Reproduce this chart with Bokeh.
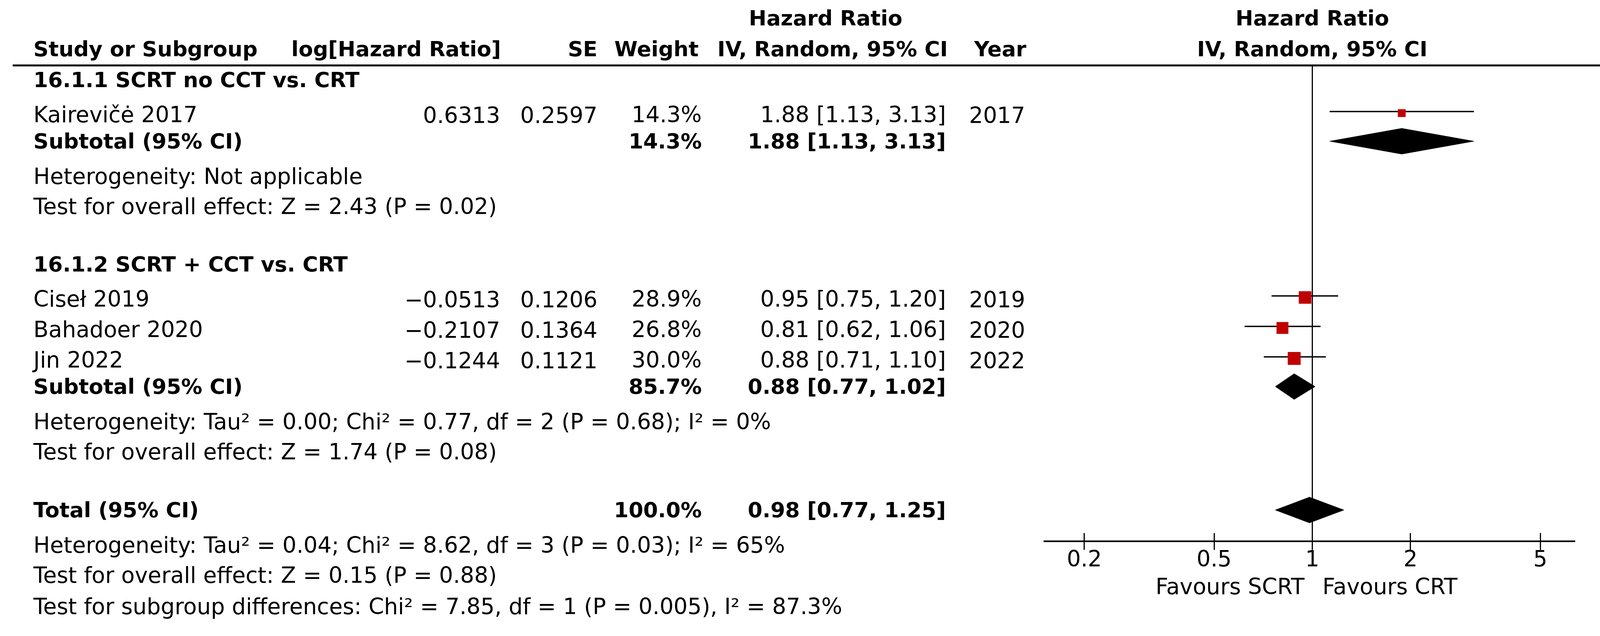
from bokeh.plotting import figure
from bokeh.models import (Range1d, FixedTicker, CustomJSTickFormatter, ColumnDataSource,
                          LogScale, LogAxis)
from bokeh.embed import file_html
from bokeh.resources import INLINE
from bokeh.core.properties import value

# ------------------------------------------------------------------ data
subgroup_titles = ["16.1.1 SCRT no CCT vs. CRT", "16.1.2 SCRT + CCT vs. CRT"]

study_names = ["Kairevičė 2017", "Ciseł 2019", "Bahadoer 2020", "Jin 2022"]
log_hr = [0.6313, -0.0513, -0.2107, -0.1244]
se = [0.2597, 0.1206, 0.1364, 0.1121]
weights = [14.3, 28.9, 26.8, 30.0]
hr = [1.88, 0.95, 0.81, 0.88]
hr_lo = [1.13, 0.75, 0.62, 0.71]
hr_hi = [3.13, 1.20, 1.06, 1.10]
years = ["2017", "2019", "2020", "2022"]

pooled_labels = ["Subtotal (95% CI)", "Subtotal (95% CI)", "Total (95% CI)"]
pooled_weight = [14.3, 85.7, 100.0]
pooled_hr = [1.88, 0.88, 0.98]
pooled_lo = [1.13, 0.77, 0.77]
pooled_hi = [3.13, 1.02, 1.25]

heterogeneity = [
    "Heterogeneity: Not applicable",
    "Heterogeneity: Tau² = 0.00; Chi² = 0.77, df = 2 (P = 0.68); I² = 0%",
    "Heterogeneity: Tau² = 0.04; Chi² = 8.62, df = 3 (P = 0.03); I² = 65%",
]
overall_effect = [
    "Test for overall effect: Z = 2.43 (P = 0.02)",
    "Test for overall effect: Z = 1.74 (P = 0.08)",
    "Test for overall effect: Z = 0.15 (P = 0.88)",
]
subgroup_diff = "Test for subgroup differences: Chi² = 7.85, df = 1 (P = 0.005), I² = 87.3%"

col_headers = ["Study or Subgroup", "log[Hazard Ratio]", "SE", "Weight", "IV, Random, 95% CI", "Year"]
hr_header = ["Hazard Ratio", "IV, Random, 95% CI"]
x_ticks = [0.2, 0.5, 1, 2, 5]
x_tick_labels = ["0.2", "0.5", "1", "2", "5"]
favours = ["Favours SCRT", "Favours CRT"]
null_value = 1.0
axis_bounds = (0.15, 6.4)

# ------------------------------------------------------------------ layout (page pixels)
FONT = "DejaVu Sans"
FS = "56.5px"
FS_B = "54px"
X0, X1 = 8, 4134
Y0, Y1 = 8, 1620
RULE_X0, RULE_X1 = 40, 4109
AXIS_Y = 1393
NULL_PX = 3367
PX_DEC = 835

# vertical centres of text rows
HDR1_Y, HDR2_Y, RULE_Y = 54, 133, 175
group_y = [212, 684]
study_y = [301, 773, 851, 929]
pooled_y = [369, 997, 1313]
het_y = [459, 1087, 1403]
eff_y = [536, 1164, 1480]
subdiff_y = 1560
FAV_Y = 1509

C_STUDY, C_LOG, C_SE, C_W, C_CI, C_YEAR = 93, 1288, 1537, 1804, 2429, 2632
H_LOG, H_SE, H_W, H_CI, H_YEAR, H_HR = 1290, 1537, 1796, 2139, 2635, 2121


def fmt_num(v, nd):
    return f"{v:.{nd}f}".replace("-", "\u2212")


def ci_text(e, lo, hi):
    return f"{e:.2f} [{lo:.2f}, {hi:.2f}]"


def txt(p, xs, ys, texts, align="left", bold=False, rng="default", x_offset=0):
    src = ColumnDataSource(dict(x=list(xs), y=list(ys), t=list(texts)))
    p.text(x="x", y="y", text="t", source=src, text_font=value(FONT),
           text_font_size=FS_B if bold else FS, text_align=align, text_baseline="middle",
           text_font_style="bold" if bold else "normal", text_color="black",
           x_range_name=rng, x_offset=x_offset)


p = figure(width=X1 - X0, height=Y1 - Y0, x_range=Range1d(X0, X1),
           y_range=Range1d(Y1, Y0), output_backend="svg", toolbar_location=None,
           min_border=0, x_axis_location=None, y_axis_location=None)
p.grid.visible = False
p.outline_line_color = None
p.background_fill_color = "white"
p.border_fill_color = "white"

# log scale for the forest panel
xa = null_value * 10 ** ((X0 - NULL_PX) / PX_DEC)
xb = null_value * 10 ** ((X1 - NULL_PX) / PX_DEC)
p.extra_x_ranges = {"hr": Range1d(xa, xb)}
p.extra_x_scales = {"hr": LogScale()}

# ------------------------------------------------------------------ table
txt(p, [H_HR], [HDR1_Y], [hr_header[0]], "center", True)
txt(p, [C_STUDY], [HDR2_Y], [col_headers[0]], "left", True)
txt(p, [H_LOG, H_SE, H_W, H_YEAR], [HDR2_Y] * 4,
    [col_headers[1], col_headers[2], col_headers[3], col_headers[5]], "right", True)
txt(p, [H_CI], [HDR2_Y], [col_headers[4]], "center", True)
p.segment(x0=[RULE_X0], y0=[RULE_Y], x1=[RULE_X1], y1=[RULE_Y], line_width=5, line_color="black")

txt(p, [C_STUDY] * 2, group_y, subgroup_titles, "left", True)
txt(p, [C_STUDY] * 4, study_y, study_names, "left")
txt(p, [C_LOG] * 4, study_y, [fmt_num(v, 4) for v in log_hr], "right")
txt(p, [C_SE] * 4, study_y, [fmt_num(v, 4) for v in se], "right")
txt(p, [C_W] * 4, study_y, [f"{w:.1f}%" for w in weights], "right")
txt(p, [C_CI] * 4, study_y, [ci_text(*t) for t in zip(hr, hr_lo, hr_hi)], "right")
txt(p, [C_YEAR] * 4, study_y, years, "right")

txt(p, [C_STUDY] * 3, pooled_y, pooled_labels, "left", True)
txt(p, [C_W] * 3, pooled_y, [f"{w:.1f}%" for w in pooled_weight], "right", True)
txt(p, [C_CI] * 3, pooled_y, [ci_text(*t) for t in zip(pooled_hr, pooled_lo, pooled_hi)], "right", True)

txt(p, [C_STUDY] * 3, het_y, heterogeneity, "left")
txt(p, [C_STUDY] * 3, eff_y, overall_effect, "left")
txt(p, [C_STUDY], [subdiff_y], [subgroup_diff], "left")

# ------------------------------------------------------------------ forest plot
txt(p, [null_value], [HDR1_Y], [hr_header[0]], "center", True, rng="hr")
txt(p, [null_value], [HDR2_Y], [hr_header[1]], "center", True, rng="hr")

p.segment(x0=[null_value], y0=[RULE_Y], x1=[null_value], y1=[AXIS_Y], line_width=3,
          line_color="black", x_range_name="hr")

line_y = [y - 8 for y in study_y]
mark_y = [y - 4 for y in study_y]
p.segment(x0=hr_lo, y0=line_y, x1=hr_hi, y1=line_y, line_width=3.5, line_color="black",
          x_range_name="hr")
p.scatter(x=hr, y=mark_y, marker="square", size=[8.2 + 0.828 * w for w in weights],
          fill_color="#C00000", line_color=None, x_range_name="hr")

p.patches(xs=[[lo, e, hi, e] for e, lo, hi in zip(pooled_hr, pooled_lo, pooled_hi)],
          ys=[[c, c - 33, c, c + 33] for c in pooled_y],
          fill_color="black", line_color="black", line_width=1, x_range_name="hr")

ax = LogAxis(x_range_name="hr", fixed_location=AXIS_Y)
ax.ticker = FixedTicker(ticks=x_ticks, minor_ticks=[])
ax.formatter = CustomJSTickFormatter(
    args=dict(tvals=x_ticks, tlabels=x_tick_labels),
    code="const i = tvals.findIndex((t) => Math.abs(t - tick) < 1e-9 * Math.max(1, Math.abs(t)));"
         " return i >= 0 ? tlabels[i] : '';")
ax.bounds = axis_bounds
ax.axis_line_width = 4
ax.axis_line_color = "black"
ax.major_tick_line_width = 3
ax.major_tick_in = 21
ax.major_tick_out = 22
ax.minor_tick_in = 0
ax.minor_tick_out = 0
ax.major_label_text_font = FONT
ax.major_label_text_font_size = FS
ax.major_label_text_color = "black"
ax.major_label_standoff = 0
p.add_layout(ax, "below")

txt(p, [null_value], [FAV_Y], [favours[0]], "right", rng="hr", x_offset=-20)
txt(p, [null_value], [FAV_Y], [favours[1]], "left", rng="hr", x_offset=26)

open("out.html", "w").write(file_html(p, INLINE))
